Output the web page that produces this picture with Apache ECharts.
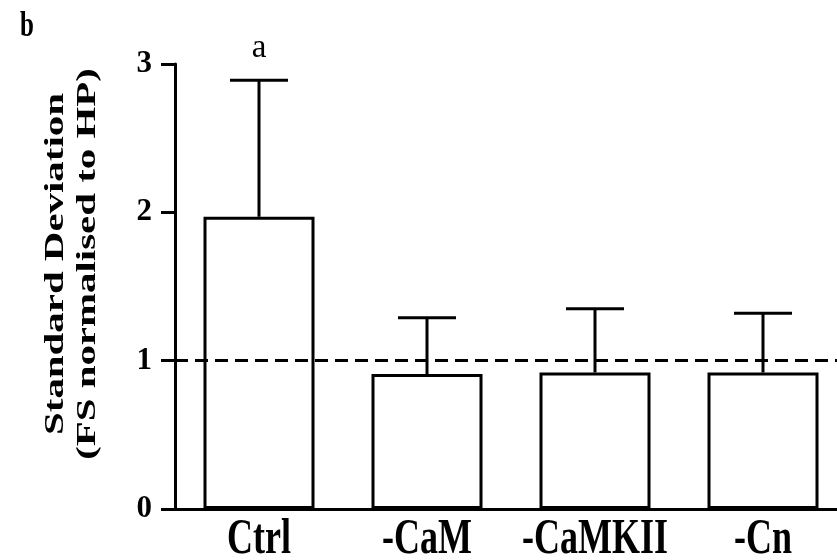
<!DOCTYPE html>
<html>
<head>
<meta charset="utf-8">
<script src="https://cdn.jsdelivr.net/npm/echarts@6/dist/echarts.min.js"></script>
<style>
html,body{margin:0;padding:0;background:#fff;}
#chart{width:837px;height:560px;}
</style>
</head>
<body>
<div id="chart"></div>
<script>
const categories = ['Ctrl', '-CaM', '-CaMKII', '-Cn'];
const means = [1.97, 0.91, 0.92, 0.92];
const errors = [0.92, 0.38, 0.43, 0.40];
const sigLabels = ['a', '', '', ''];
const yTicks = [0, 1, 2, 3];
const referenceLevel = 1;

const FONT = 'Liberation Serif, Times New Roman, serif';
const chart = echarts.init(document.getElementById('chart'), null, {renderer: 'canvas'});

const errData = categories.map((c, i) => [i, means[i], means[i] + errors[i], sigLabels[i]]);
const labelData = categories.map((c, i) => [i, 0, c]);

chart.setOption({
  animation: false,
  backgroundColor: '#fff',
  grid: {left: 175, top: 64, bottom: 51, width: 672, containLabel: false, outerBoundsMode: 'none'},
  xAxis: {
    type: 'category',
    data: categories,
    axisLine: {lineStyle: {color: '#000', width: 3}},
    axisTick: {alignWithLabel: true, length: 12, lineStyle: {color: '#000', width: 3}},
    axisLabel: {show: false}
  },
  yAxis: {
    type: 'value',
    min: yTicks[0],
    max: yTicks[yTicks.length - 1],
    interval: 1,
    splitLine: {show: false},
    axisLine: {show: true, lineStyle: {color: '#000', width: 3}},
    axisTick: {show: true, length: 14, lineStyle: {color: '#000', width: 3}},
    axisLabel: {color: '#000', fontFamily: FONT, fontWeight: 'bold', fontSize: 31, margin: 23}
  },
  graphic: [
    {type: 'text', x: 20, y: 9, scaleY: 1.4,
     style: {text: 'b', font: 'bold 25px ' + FONT, fill: '#000', verticalAlign: 'top'}},
    {type: 'text', x: 72, y: 264, rotation: Math.PI / 2, scaleX: 1.46,
     style: {text: 'Standard Deviation\n(FS normalised to HP)', font: 'bold 28px ' + FONT, fill: '#000',
             align: 'center', verticalAlign: 'middle', lineHeight: 32}}
  ],
  series: [
    {
      type: 'bar',
      data: means,
      barWidth: 111,
      itemStyle: {color: 'rgba(255,255,255,0)', borderColor: '#000', borderWidth: 3},
      markLine: {
        silent: true,
        symbol: ['none', 'none'],
        label: {show: false},
        lineStyle: {color: '#000', width: 3, type: [13, 7]},
        data: [{yAxis: referenceLevel}]
      },
      z: 2
    },
    {
      type: 'custom',
      data: errData,
      z: 3,
      renderItem: function (params, api) {
        const i = api.value(0);
        const lo = api.coord([i, api.value(1)]);
        const hi = api.coord([i, api.value(2)]);
        const capHalf = 29;
        const children = [
          {type: 'line', shape: {x1: lo[0], y1: lo[1], x2: hi[0], y2: hi[1]}, style: {stroke: '#000', lineWidth: 3}},
          {type: 'line', shape: {x1: hi[0] - capHalf, y1: hi[1], x2: hi[0] + capHalf, y2: hi[1]}, style: {stroke: '#000', lineWidth: 3}}
        ];
        const lab = errData[params.dataIndex][3];
        if (lab) {
          children.push({type: 'text', x: hi[0], y: hi[1] - 15,
            style: {text: lab, font: '33px ' + FONT, fill: '#000', align: 'center', verticalAlign: 'bottom'}});
        }
        return {type: 'group', children: children};
      }
    },
    {
      type: 'custom',
      data: labelData,
      z: 3,
      clip: false,
      renderItem: function (params, api) {
        const p = api.coord([api.value(0), api.value(1)]);
        return {type: 'text', x: p[0], y: p[1] + 31, scaleY: 1.38,
          style: {text: labelData[params.dataIndex][2], font: 'bold 36px ' + FONT, fill: '#000',
                  align: 'center', verticalAlign: 'middle'}};
      }
    }
  ]
});
</script>
</body>
</html>
